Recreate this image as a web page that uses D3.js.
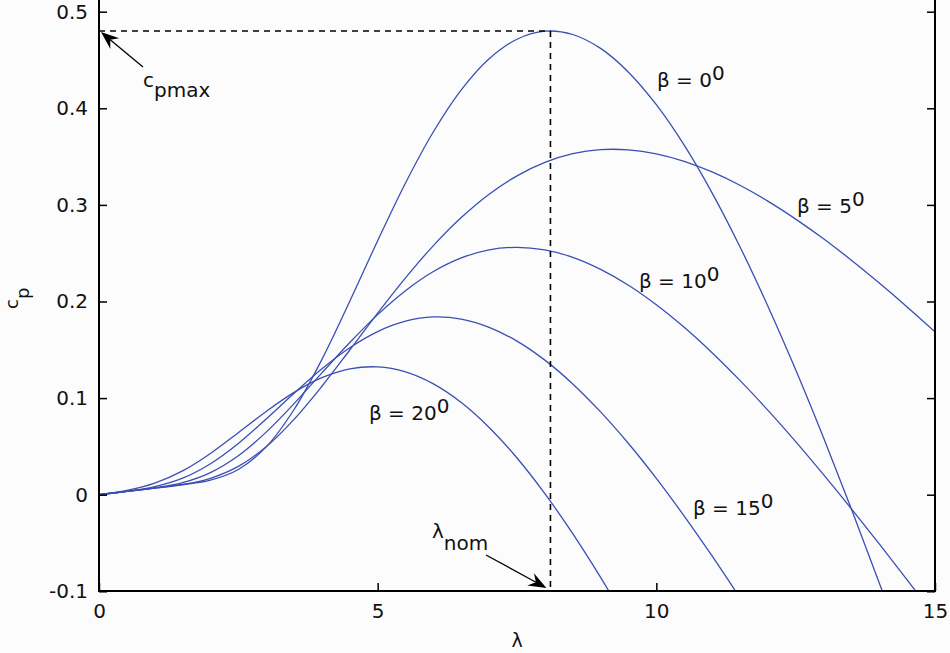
<!DOCTYPE html>
<html>
<head>
<meta charset="utf-8">
<script src="https://cdn.jsdelivr.net/npm/d3@7"></script>
<style>
  html, body { margin: 0; padding: 0; background: #fcfcfc; }
  svg { display: block; background: #fcfcfc; }
  text { font-family: "DejaVu Sans", "Liberation Sans", Arial, sans-serif; fill: #111; }
</style>
</head>
<body>
<svg id="chart" width="950" height="653"></svg>
<script>
// ---- data ----
const lambda = [0,0.5,1,1.5,2,2.5,3,3.5,4,4.5,5,5.5,6,6.5,7,7.5,8,8.5,9,9.5,10,10.5,11,11.5,12,12.5,13,13.5,14,14.5,15];
const cpBeta0  = [0,0.0034,0.0068,0.0103,0.0151,0.0261,0.0495,0.0882,0.1401,0.2003,0.2629,0.3227,0.3757,0.4191,0.4513,0.4715,0.4798,0.4764,0.4620,0.4374,0.4037,0.3618,0.3125,0.2567,0.1954,0.1293,0.0590,-0.0147,-0.0913,-0.1703,null];
const cpBeta5  = [0,0.0034,0.0068,0.0106,0.0170,0.0293,0.0497,0.0780,0.1123,0.1498,0.1880,0.2245,0.2579,0.2869,0.3111,0.3301,0.3440,0.3530,0.3572,0.3570,0.3529,0.3451,0.3341,0.3203,0.3039,0.2853,0.2649,0.2427,0.2191,0.1944,0.1686];
const cpBeta10 = [0,0.0034,0.0070,0.0125,0.0229,0.0403,0.0648,0.0943,0.1261,0.1575,0.1864,0.2112,0.2310,0.2451,0.2535,0.2561,0.2534,0.2457,0.2333,0.2169,0.1967,0.1733,0.1470,0.1183,0.0875,0.0549,0.0207,-0.0146,-0.0510,-0.0882,-0.1259];
const cpBeta15 = [0,0.0035,0.0083,0.0171,0.0321,0.0531,0.0784,0.1050,0.1304,0.1522,0.1689,0.1796,0.1840,0.1818,0.1733,0.1590,0.1393,0.1147,0.0857,0.0530,0.0169,-0.0221,-0.0634,-0.1068,-0.1519,null,null,null,null,null,null];
const cpBeta20 = [0.0001,0.0044,0.0119,0.0246,0.0427,0.0642,0.0862,0.1059,0.1211,0.1302,0.1323,0.1271,0.1147,0.0954,0.0696,0.0380,0.0011,-0.0403,-0.0856,-0.1344,null,null,null,null,null,null,null,null,null,null,null];

const seriesNames = ["β = 0", "β = 5", "β = 10", "β = 15", "β = 20"];

const xTicks = [0, 5, 10, 15];
const xTickLabels = ["0", "5", "10", "15"];
const yTicks = [-0.1, 0, 0.1, 0.2, 0.3, 0.4, 0.5];
const yTickLabels = ["-0.1", "0", "0.1", "0.2", "0.3", "0.4", "0.5"];

const cpMax = 0.48;
const lambdaNom = 8.1;

// ---- layout ----
(function () {
const svg = d3.select("#chart");
const pL = 99, pR = 935, pT = 0, pB = 591;
const x = d3.scaleLinear().domain([0, 15]).range([pL, pR]);
const y = d3.scaleLinear().domain([-0.1, 0.5]).range([591.3, 11.7]);
const blue = "#3a4fb4";

svg.append("defs").append("clipPath").attr("id", "plotclip")
  .append("rect").attr("x", pL).attr("y", pT).attr("width", pR - pL).attr("height", pB - pT);

// curves
const allSeries = [cpBeta0, cpBeta5, cpBeta10, cpBeta15, cpBeta20];
const line = d3.line()
  .defined(d => d[1] !== null)
  .x(d => x(d[0])).y(d => y(d[1]))
  .curve(d3.curveCatmullRom.alpha(0.5));
const gCurves = svg.append("g").attr("clip-path", "url(#plotclip)");
allSeries.forEach(s => {
  gCurves.append("path")
    .datum(lambda.map((l, i) => [l, s[i]]))
    .attr("d", line)
    .attr("fill", "none")
    .attr("stroke", blue)
    .attr("stroke-width", 1.3);
});

// dashed guide lines
svg.append("line")
  .attr("x1", x(0)).attr("x2", x(lambdaNom))
  .attr("y1", y(cpMax)).attr("y2", y(cpMax))
  .attr("stroke", "#000").attr("stroke-width", 1.6).attr("stroke-dasharray", "6,5");
svg.append("line")
  .attr("x1", x(lambdaNom)).attr("x2", x(lambdaNom))
  .attr("y1", y(cpMax)).attr("y2", pB)
  .attr("stroke", "#000").attr("stroke-width", 1.6).attr("stroke-dasharray", "6,5");

// axes
const yAxis = d3.axisLeft(y).tickValues(yTicks)
  .tickFormat((d, i) => yTickLabels[i])
  .tickSizeInner(-8).tickSizeOuter(0).tickPadding(11);
const gy = svg.append("g").attr("transform", `translate(${pL},0)`).call(yAxis);

const yAxisR = d3.axisLeft(y).tickValues(yTicks).tickFormat(() => "")
  .tickSizeInner(8).tickSizeOuter(0);
const gyr = svg.append("g").attr("transform", `translate(${pR},0)`).call(yAxisR);

const xAxis = d3.axisBottom(x).tickValues(xTicks)
  .tickFormat((d, i) => xTickLabels[i])
  .tickSizeInner(-8).tickSizeOuter(0).tickPadding(13);
const gx = svg.append("g").attr("transform", `translate(0,${pB})`).call(xAxis);

[gy, gyr, gx].forEach(g => {
  g.select(".domain").remove();
  g.selectAll(".tick line").attr("stroke", "#000").attr("stroke-width", 1.5);
  g.selectAll(".tick text").attr("font-size", 20).attr("fill", "#111")
    .style("font-family", '"DejaVu Sans", "Liberation Sans", Arial, sans-serif');
});

// frame
svg.append("path").attr("d", `M${pL},${pT}V${pB}H${pR}V${pT}`)
  .attr("stroke", "#000").attr("stroke-width", 2).attr("fill", "none");

// axis labels
svg.append("text").attr("x", (pL + pR) / 2).attr("y", 647)
  .attr("text-anchor", "middle").attr("font-size", 19).text("λ");
const yl = svg.append("text").attr("transform", "translate(18,309) rotate(-90)")
  .attr("font-size", 18);
yl.append("tspan").text("c");
yl.append("tspan").attr("dy", 11).text("p");

// series labels
const labelPos = [[657, 87], [797, 213], [639, 288], [693, 515], [369, 420]];
seriesNames.forEach((name, i) => {
  const t = svg.append("text").attr("x", labelPos[i][0]).attr("y", labelPos[i][1]).attr("font-size", 20);
  t.append("tspan").text(name);
  t.append("tspan").attr("dy", -7).text("0");
});

// arrows
function arrow(x1, y1, x2, y2) {
  const ang = Math.atan2(y2 - y1, x2 - x1);
  const L = 18, W = 7, N = 12;
  const bx = x2 - L * Math.cos(ang), by = y2 - L * Math.sin(ang);
  const nx = x2 - N * Math.cos(ang), ny = y2 - N * Math.sin(ang);
  const px = -Math.sin(ang), py = Math.cos(ang);
  svg.append("line").attr("x1", x1).attr("y1", y1).attr("x2", nx).attr("y2", ny)
    .attr("stroke", "#000").attr("stroke-width", 1.3);
  svg.append("path")
    .attr("d", `M${x2},${y2}L${bx + W * px},${by + W * py}L${nx},${ny}L${bx - W * px},${by - W * py}Z`)
    .attr("fill", "#000");
}
arrow(143, 67, x(0) + 2, y(cpMax) + 1);
arrow(486, 555, x(lambdaNom) - 4, pB - 3);

// annotation texts
const t1 = svg.append("text").attr("x", 143).attr("y", 87).attr("font-size", 20);
t1.append("tspan").text("c");
t1.append("tspan").attr("dy", 10).text("pmax");
const t2 = svg.append("text").attr("x", 432).attr("y", 538).attr("font-size", 20);
t2.append("tspan").text("λ");
t2.append("tspan").attr("dy", 12).text("nom");
})();
</script>
</body>
</html>
